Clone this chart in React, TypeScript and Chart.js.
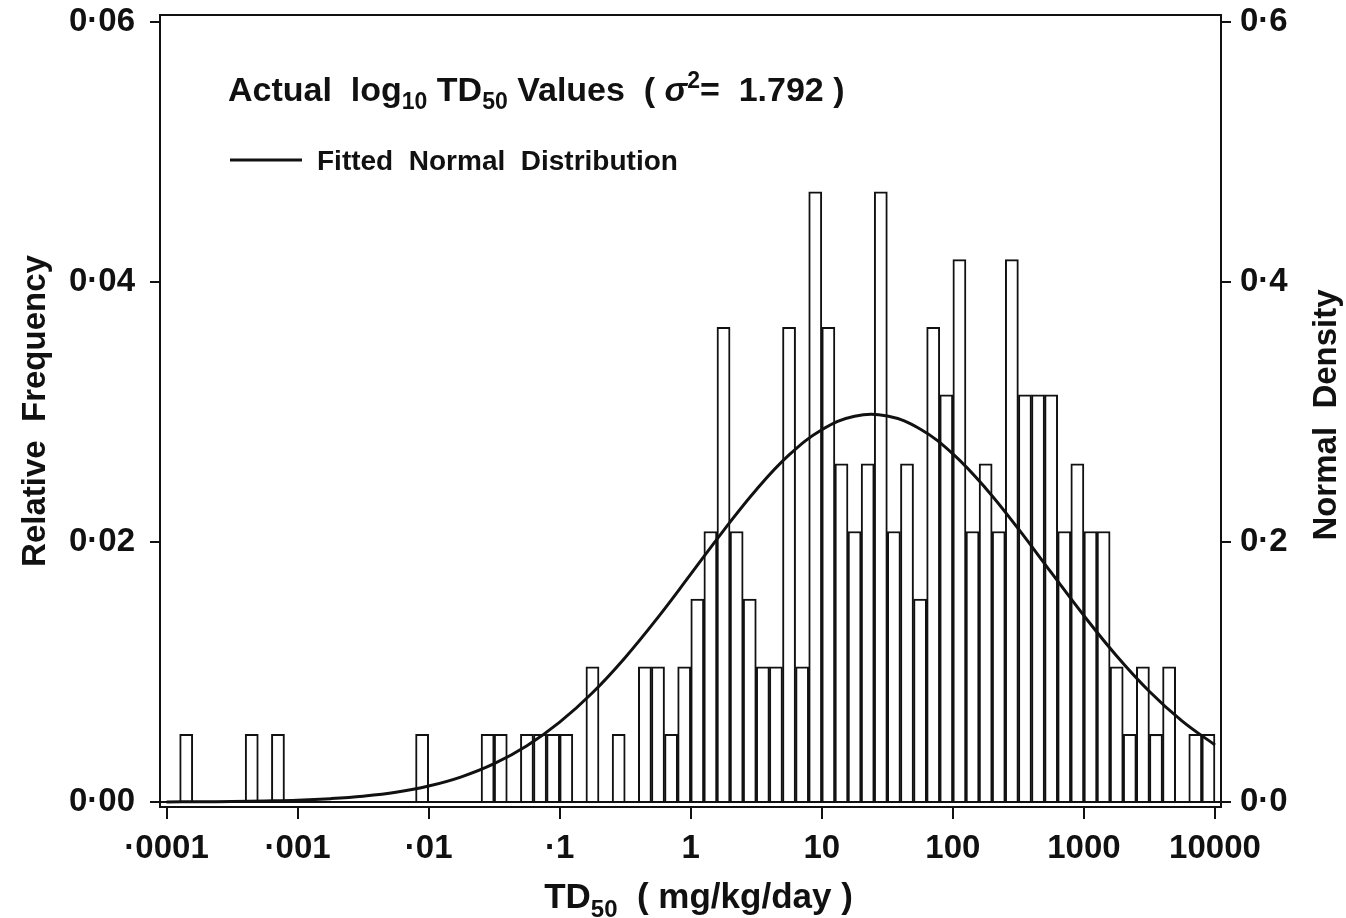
import React, { useEffect, useRef } from "react";
import { Chart, registerables } from "chart.js";

Chart.register(...registerables);

// ---------- data ----------
// histogram bins of log10 TD50, width 0.1, centres
const BIN_CENTERS = [
  -3.95, -3.85, -3.75, -3.65, -3.55, -3.45, -3.35, -3.25, -3.15, -3.05,
  -2.95, -2.85, -2.75, -2.65, -2.55, -2.45, -2.35, -2.25, -2.15, -2.05,
  -1.95, -1.85, -1.75, -1.65, -1.55, -1.45, -1.35, -1.25, -1.15, -1.05,
  -0.95, -0.85, -0.75, -0.65, -0.55, -0.45, -0.35, -0.25, -0.15, -0.05,
  0.05, 0.15, 0.25, 0.35, 0.45, 0.55, 0.65, 0.75, 0.85, 0.95,
  1.05, 1.15, 1.25, 1.35, 1.45, 1.55, 1.65, 1.75, 1.85, 1.95,
  2.05, 2.15, 2.25, 2.35, 2.45, 2.55, 2.65, 2.75, 2.85, 2.95,
  3.05, 3.15, 3.25, 3.35, 3.45, 3.55, 3.65, 3.75, 3.85, 3.95,
];

// relative frequency of each bin
const REL_FREQ = [
  0, 0.0052, 0, 0, 0, 0, 0.0052, 0, 0.0052, 0,
  0, 0, 0, 0, 0, 0, 0, 0, 0, 0.0052,
  0, 0, 0, 0, 0.0052, 0.0052, 0, 0.0052, 0.0052, 0.0052,
  0.0052, 0, 0.0104, 0, 0.0052, 0, 0.0104, 0.0104, 0.0052, 0.0104,
  0.0156, 0.0208, 0.0365, 0.0208, 0.0156, 0.0104, 0.0104, 0.0365, 0.0104, 0.0469,
  0.0365, 0.026, 0.0208, 0.026, 0.0469, 0.0208, 0.026, 0.0156, 0.0365, 0.0313,
  0.0417, 0.0208, 0.026, 0.0208, 0.0417, 0.0313, 0.0313, 0.0313, 0.0208, 0.026,
  0.0208, 0.0208, 0.0104, 0.0052, 0.0104, 0.0052, 0.0104, 0, 0.0052, 0.0052,
];

// fitted normal curve, read along the log10 axis
const CURVE_LOG_X = [
  -4, -3.75, -3.5, -3.25, -3, -2.75, -2.5, -2.25, -2, -1.75, -1.5, -1.25, -1,
  -0.75, -0.5, -0.25, 0, 0.25, 0.5, 0.75, 1, 1.25, 1.5, 1.75, 2, 2.25, 2.5,
  2.75, 3, 3.25, 3.5, 3.75, 4,
];
const CURVE_DENSITY = [
  0.0001, 0.0002, 0.0004, 0.0008, 0.0014, 0.0026, 0.0045, 0.0075, 0.0123,
  0.0194, 0.0295, 0.0433, 0.0614, 0.084, 0.1112, 0.142, 0.1752, 0.2087,
  0.2401, 0.2668, 0.2862, 0.2966, 0.2968, 0.2868, 0.2677, 0.2413, 0.21,
  0.1765, 0.1433, 0.1123, 0.085, 0.0622, 0.0439,
];

// axes
const X_TICK_VALUES = [-4, -3, -2, -1, 0, 1, 2, 3, 4];
const X_TICK_LABELS = ["·0001", "·001", "·01", "·1", "1", "10", "100", "1000", "10000"];
const LEFT_TICK_VALUES = [0, 0.02, 0.04, 0.06];
const LEFT_TICK_LABELS = ["0·00", "0·02", "0·04", "0·06"];
const RIGHT_TICK_VALUES = [0, 0.2, 0.4, 0.6];
const RIGHT_TICK_LABELS = ["0·0", "0·2", "0·4", "0·6"];

const LEFT_TITLE = "Relative  Frequency";
const RIGHT_TITLE = "Normal  Density";
const LEGEND_TEXT = "Fitted  Normal  Distribution";

// ---------- styling ----------
const INK = "#111111";
const FAMILY = "'Liberation Sans', Arial, Helvetica, sans-serif";

type Piece = { t: string; size: number; dy?: number; italic?: boolean };

const ANNOTATION: Piece[] = [
  { t: "Actual  log", size: 34 },
  { t: "10", size: 23, dy: 8 },
  { t: " TD", size: 34 },
  { t: "50", size: 23, dy: 8 },
  { t: " Values  ( ", size: 34 },
  { t: "σ", size: 34, italic: true },
  { t: "2", size: 23, dy: -13 },
  { t: "=  1.792 )", size: 34 },
];

const X_TITLE: Piece[] = [
  { t: "TD", size: 35 },
  { t: "50", size: 24, dy: 9 },
  { t: "  ( mg/kg/day )", size: 35 },
];

function fontOf(p: Piece) {
  return `${p.italic ? "italic " : ""}bold ${p.size}px ${FAMILY}`;
}

function drawPieces(ctx: CanvasRenderingContext2D, pieces: Piece[], x: number, y: number, align: "left" | "center") {
  const widths = pieces.map((p) => {
    ctx.font = fontOf(p);
    return ctx.measureText(p.t).width;
  });
  const total = widths.reduce((a, b) => a + b, 0);
  let cx = align === "center" ? x - total / 2 : x;
  ctx.textAlign = "left";
  ctx.textBaseline = "alphabetic";
  pieces.forEach((p, i) => {
    ctx.font = fontOf(p);
    ctx.fillText(p.t, cx, y + (p.dy || 0));
    cx += widths[i];
  });
}

const decorPlugin = {
  id: "decor",
  afterDraw(chart: any) {
    const ctx: CanvasRenderingContext2D = chart.ctx;
    const a = chart.chartArea;
    ctx.save();
    // frame
    ctx.strokeStyle = INK;
    ctx.lineWidth = 2;
    ctx.strokeRect(a.left, a.top, a.right - a.left, a.bottom - a.top);

    ctx.fillStyle = INK;
    // in-plot annotation
    drawPieces(ctx, ANNOTATION, a.left + 68, a.top + 86, "left");
    // legend line + text
    ctx.beginPath();
    ctx.lineWidth = 3;
    ctx.moveTo(a.left + 70, a.top + 145);
    ctx.lineTo(a.left + 142, a.top + 145);
    ctx.stroke();
    ctx.font = `bold 28px ${FAMILY}`;
    ctx.textAlign = "left";
    ctx.textBaseline = "alphabetic";
    ctx.fillText(LEGEND_TEXT, a.left + 157, a.top + 155);

    // x-axis title
    drawPieces(ctx, X_TITLE, (a.left + a.right) / 2 + 8, a.bottom + 101, "center");

    // y titles (both read bottom-to-top)
    ctx.font = `bold 33px ${FAMILY}`;
    ctx.textAlign = "center";
    ctx.textBaseline = "middle";
    ctx.save();
    ctx.translate(a.left - 124, (a.top + a.bottom) / 2);
    ctx.rotate(-Math.PI / 2);
    ctx.fillText(LEFT_TITLE, 0, 0);
    ctx.restore();
    ctx.save();
    ctx.translate(a.right + 106, (a.top + a.bottom) / 2 + 4);
    ctx.rotate(-Math.PI / 2);
    ctx.fillText(RIGHT_TITLE, 0, 0);
    ctx.restore();
    ctx.restore();
  },
};

const tickFont = { family: FAMILY, size: 33, weight: "bold" as const };

function zeroPad(s: any) {
  s.paddingTop = 0;
  s.paddingBottom = 0;
  s.paddingLeft = 0;
  s.paddingRight = 0;
}

export default function App() {
  const ref = useRef<HTMLCanvasElement>(null);
  useEffect(() => {
    const canvas = ref.current;
    if (!canvas) return;
    const chart = new Chart(canvas, {
      type: "bar",
      data: {
        datasets: [
          {
            type: "line",
            label: "Fitted Normal Distribution",
            data: CURVE_LOG_X.map((x, i) => ({ x, y: CURVE_DENSITY[i] })),
            xAxisID: "x",
            yAxisID: "y2",
            borderColor: INK,
            borderWidth: 3,
            pointRadius: 0,
            tension: 0.4,
            fill: false,
            order: 0,
          } as any,
          {
            type: "bar",
            label: "Actual log10 TD50 Values",
            data: BIN_CENTERS.map((x, i) => ({ x, y: REL_FREQ[i] })),
            xAxisID: "x",
            yAxisID: "y",
            backgroundColor: "#ffffff",
            borderColor: INK,
            borderWidth: 2,
            borderSkipped: "start",
            categoryPercentage: 1,
            barPercentage: 1,
            order: 1,
          } as any,
        ],
      },
      options: {
        animation: false,
        responsive: false,
        maintainAspectRatio: false,
        layout: { padding: { top: 15, left: 0, right: 0, bottom: 0 } },
        plugins: { legend: { display: false }, tooltip: { enabled: false } },
        scales: {
          x: {
            type: "linear",
            position: "bottom",
            min: -4.05,
            max: 4.046,
            offset: false,
            afterBuildTicks: (s: any) => {
              s.ticks = X_TICK_VALUES.map((v) => ({ value: v }));
            },
            afterFit: (s: any) => {
              s.height = 111;
              zeroPad(s);
            },
            ticks: {
              autoSkip: false,
              maxRotation: 0,
              minRotation: 0,
              padding: 10,
              color: INK,
              font: tickFont,
              callback: (v: any) => X_TICK_LABELS[X_TICK_VALUES.indexOf(Number(v))] ?? "",
            },
            grid: {
              offset: false,
              drawOnChartArea: false,
              drawTicks: true,
              tickLength: 12,
              color: INK,
              tickColor: INK,
              tickWidth: 2,
              lineWidth: 2,
            },
            border: { display: false },
          } as any,
          y: {
            type: "linear",
            position: "left",
            min: -0.00038,
            max: 0.0605,
            afterBuildTicks: (s: any) => {
              s.ticks = LEFT_TICK_VALUES.map((v) => ({ value: v }));
            },
            afterFit: (s: any) => {
              s.width = 160;
              zeroPad(s);
            },
            ticks: {
              padding: 15,
              color: INK,
              font: tickFont,
              callback: (v: any) => LEFT_TICK_LABELS[LEFT_TICK_VALUES.indexOf(Number(v))] ?? "",
            },
            grid: {
              drawOnChartArea: true,
              tickLength: 10,
              color: (c: any) => (c.tick && c.tick.value === 0 ? INK : "rgba(0,0,0,0)"),
              tickColor: INK,
              tickWidth: 2,
              lineWidth: 2,
            },
            border: { display: false },
          } as any,
          y2: {
            type: "linear",
            position: "right",
            min: -0.0038,
            max: 0.605,
            afterBuildTicks: (s: any) => {
              s.ticks = RIGHT_TICK_VALUES.map((v) => ({ value: v }));
            },
            afterFit: (s: any) => {
              s.width = 125;
              zeroPad(s);
            },
            ticks: {
              padding: 9,
              color: INK,
              font: tickFont,
              callback: (v: any) => RIGHT_TICK_LABELS[RIGHT_TICK_VALUES.indexOf(Number(v))] ?? "",
            },
            grid: {
              drawOnChartArea: false,
              tickLength: 10,
              color: INK,
              tickColor: INK,
              tickWidth: 2,
              lineWidth: 2,
            },
            border: { display: false },
          } as any,
        },
      },
      plugins: [decorPlugin],
    });
    return () => chart.destroy();
  }, []);

  return (
    <div style={{ position: "absolute", left: 0, top: 0, width: 1346, height: 918, background: "#fff" }}>
      <canvas ref={ref} width={1346} height={918} style={{ display: "block", width: 1346, height: 918 }} />
    </div>
  );
}
